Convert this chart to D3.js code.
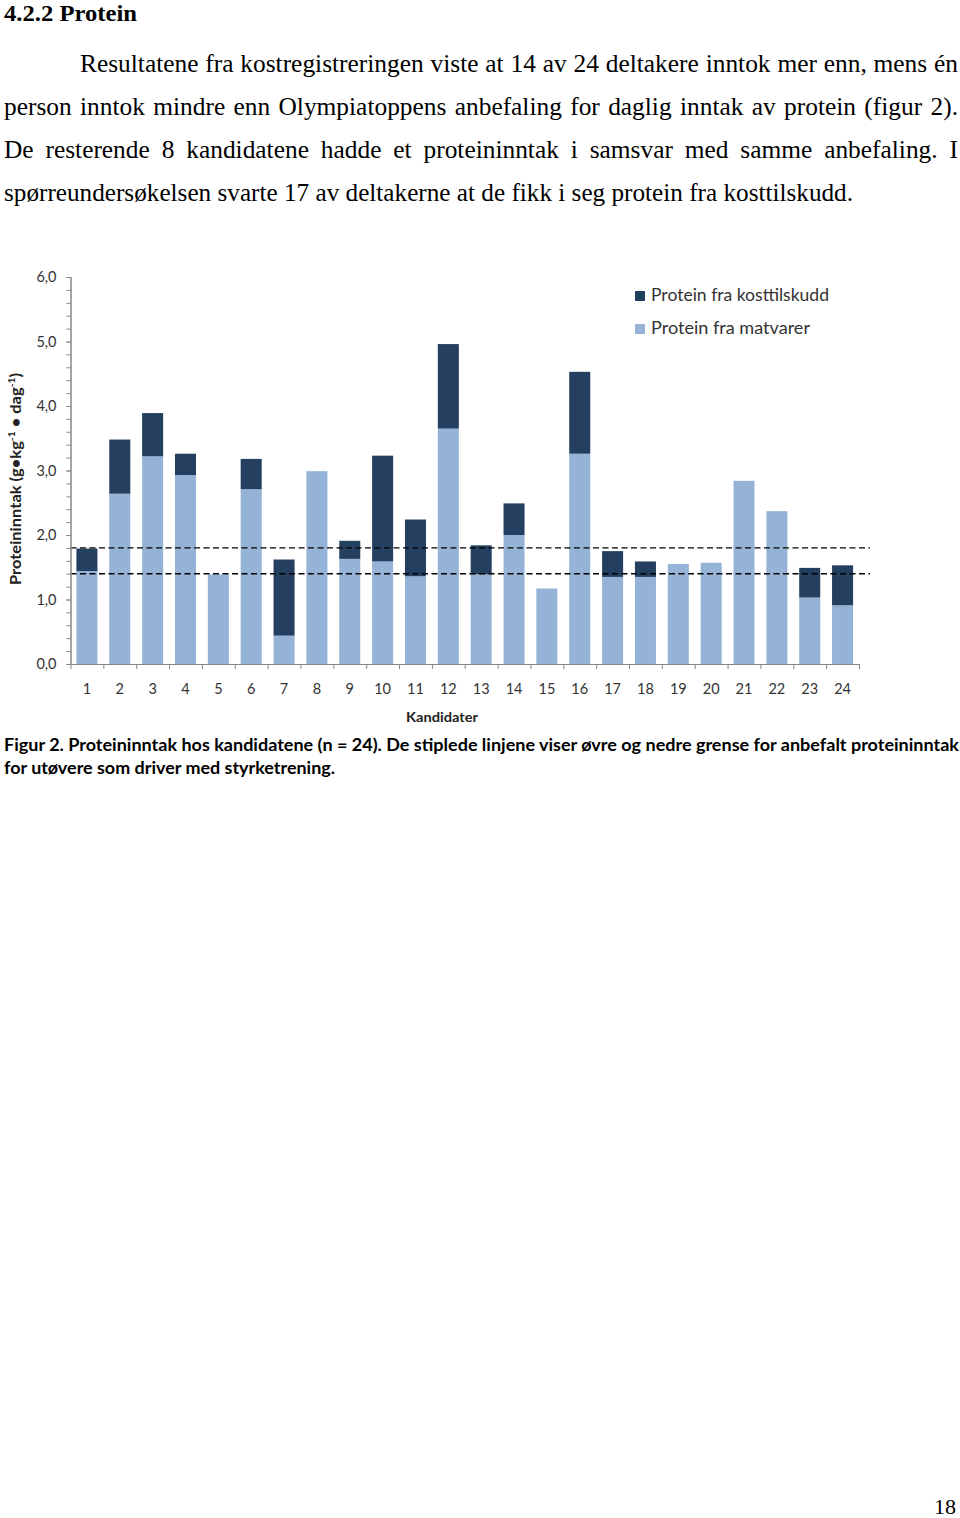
<!DOCTYPE html>
<html><head><meta charset="utf-8">
<script src="https://cdn.jsdelivr.net/npm/d3@7"></script>
<style>
html,body{margin:0;padding:0;background:#fff;}
svg{display:block;}
</style></head>
<body>
<svg id="page" width="960" height="1518"></svg>
<script>
// ---------- data ----------
const candidates = ["1","2","3","4","5","6","7","8","9","10","11","12","13","14","15","16","17","18","19","20","21","22","23","24"];
const proteinFood = [1.44,2.64,3.22,2.93,1.39,2.71,0.44,2.99,1.63,1.59,1.36,3.65,1.39,2.00,1.17,3.26,1.35,1.35,1.55,1.57,2.84,2.37,1.03,0.91];
const proteinSupplement = [0.35,0.84,0.67,0.33,0,0.47,1.18,0,0.28,1.64,0.88,1.31,0.45,0.49,0,1.27,0.40,0.24,0,0,0,0,0.46,0.62];
const seriesNames = ["Protein fra matvarer","Protein fra kosttilskudd"];
const yTicks = [0,1,2,3,4,5,6];
const yMinorTicks = d3.range(0, 30.5).map(i => i * 0.2);
const limits = [1.4, 1.8];

const headingText = "4.2.2 Protein";
const bodyLines = [
  "Resultatene fra kostregistreringen viste at 14 av 24 deltakere inntok mer enn, mens én",
  "person inntok mindre enn Olympiatoppens anbefaling for daglig inntak av protein (figur 2).",
  "De resterende 8 kandidatene hadde et proteininntak i samsvar med samme anbefaling. I",
  "spørreundersøkelsen svarte 17 av deltakerne at de fikk i seg protein fra kosttilskudd."
];
const captionLines = [
  "Figur 2. Proteininntak hos kandidatene (n = 24). De stiplede linjene viser øvre og nedre grense for anbefalt proteininntak",
  "for utøvere som driver med styrketrening."
];
const pageNumber = "18";

// ---------- page ----------
const svg = d3.select("#page");
const serif = "'Liberation Serif','Times New Roman',serif";
const sans = "Lato,'Open Sans',sans-serif";
const bodySize = 25.4;

svg.append("text").attr("x",4).attr("y",21).attr("font-family",serif).attr("font-weight","bold")
  .attr("font-size",24).attr("textLength",133).attr("lengthAdjust","spacingAndGlyphs").text(headingText);

const bodyLayout = [
  {x:80, y:72, w:878, just:true},
  {x:4, y:115, w:954, just:true},
  {x:4, y:158, w:954, just:true},
  {x:4, y:201, w:849, just:false}
];
bodyLines.forEach((t,i)=>{
  const L = bodyLayout[i];
  const g = svg.append("g");
  const words = t.split(" ");
  const tmp = g.append("text").attr("font-family",serif).attr("font-size",bodySize).text(t);
  const natural = tmp.node().getComputedTextLength();
  tmp.remove();
  if (natural > L.w || !L.just) {
    g.append("text").attr("x",L.x).attr("y",L.y).attr("font-family",serif).attr("font-size",bodySize)
      .attr("textLength",L.w).attr("lengthAdjust","spacingAndGlyphs").text(t);
  } else {
    const widths = words.map(w=>{
      const n = g.append("text").attr("font-family",serif).attr("font-size",bodySize).text(w);
      const wd = n.node().getComputedTextLength(); n.remove(); return wd;
    });
    const total = d3.sum(widths);
    const gap = (L.w - total) / (words.length - 1);
    let x = L.x;
    words.forEach((w,j)=>{
      g.append("text").attr("x",x).attr("y",L.y).attr("font-family",serif).attr("font-size",bodySize).text(w);
      x += widths[j] + gap;
    });
  }
});

svg.append("text").attr("x",956).attr("y",1514).attr("text-anchor","end").attr("font-family",serif)
  .attr("font-size",22).text(pageNumber);

// ---------- chart ----------
const x = d3.scaleBand().domain(candidates).range([70.5, 859]).paddingInner(0.36).paddingOuter(0.18);
const xEdge = d3.scaleLinear().domain([0,24]).range([70.5, 859]);
const y = d3.scaleLinear().domain([0,6]).range([664, 277]);

const rows = candidates.map((c,i)=>({c, food:proteinFood[i], supp:proteinSupplement[i]}));
const stack = d3.stack().keys(["food","supp"])(rows);
const colors = {food:"#95B3D7", supp:"#243F60"};

const chart = svg.append("g");

chart.selectAll("g.series").data(stack).join("g").attr("fill", d=>colors[d.key])
  .selectAll("rect").data(d=>d).join("rect")
  .attr("x", d=>x(d.data.c)).attr("width", x.bandwidth())
  .attr("y", d=>y(d[1])).attr("height", d=>Math.max(0, y(d[0]) - y(d[1])));

// dashed limit lines
chart.selectAll("line.limit").data(limits).join("line")
  .attr("x1",70.5).attr("x2",870).attr("y1",d=>y(d)).attr("y2",d=>y(d))
  .attr("stroke","#000").attr("stroke-width",1.4).attr("stroke-dasharray","6,3.5");

// y axis
const axisColor = "#868686";
const yMinor = chart.append("g").attr("transform","translate(70.5,0)")
  .call(d3.axisLeft(y).tickValues(yMinorTicks).tickSize(4).tickFormat(""));
const yMajor = chart.append("g").attr("transform","translate(70.5,0)")
  .call(d3.axisLeft(y).tickValues(yTicks).tickSize(4).tickPadding(10).tickFormat(d=>d3.format(".1f")(d).replace(".",",")));
[yMinor,yMajor].forEach(a=>{
  a.select(".domain").attr("stroke",axisColor).attr("d","M0.5,277V664");
  a.selectAll(".tick line").attr("stroke",axisColor);
});
yMajor.selectAll("text").attr("font-family",sans).attr("font-size",14.5).attr("fill","#333");

// x axis
const xTicks = chart.append("g").attr("transform","translate(0,664)")
  .call(d3.axisBottom(xEdge).tickValues(d3.range(0,25)).tickSize(5).tickFormat(""));
xTicks.select(".domain").attr("stroke",axisColor).attr("d","M70.5,0.5H859");
xTicks.selectAll(".tick line").attr("stroke",axisColor);
const xLab = chart.append("g").attr("transform","translate(0,664)")
  .call(d3.axisBottom(x).tickSize(0).tickPadding(20));
xLab.select(".domain").remove();
xLab.selectAll("text").attr("font-family",sans).attr("font-size",14.5).attr("fill","#333");

// axis titles
chart.append("text").attr("transform","translate(21,479) rotate(-90)").attr("text-anchor","middle")
  .attr("font-family",sans).attr("font-weight","bold").attr("font-size",16).attr("fill","#222")
  .attr("textLength",212).attr("lengthAdjust","spacingAndGlyphs")
  .call(t=>{
    t.append("tspan").text("Proteininntak (g•kg");
    t.append("tspan").attr("dy",-6).attr("font-size",10).text("-1");
    t.append("tspan").attr("dy",6).text(" • dag");
    t.append("tspan").attr("dy",-6).attr("font-size",10).text("-1");
    t.append("tspan").attr("dy",6).text(")");
  });
chart.append("text").attr("x",442).attr("y",722).attr("text-anchor","middle")
  .attr("font-family",sans).attr("font-weight","bold").attr("font-size",14).attr("fill","#222")
  .attr("textLength",72).attr("lengthAdjust","spacingAndGlyphs").text("Kandidater");

// legend
const legendItems = [{name:seriesNames[1], key:"supp", w:178},{name:seriesNames[0], key:"food", w:159}];
const leg = chart.append("g");
legendItems.forEach((d,i)=>{
  const base = 301 + i*33;
  leg.append("rect").attr("x",635).attr("y",base-10).attr("width",10).attr("height",10).attr("fill",colors[d.key]);
  leg.append("text").attr("x",651).attr("y",base).attr("font-family",sans).attr("font-size",17).attr("fill","#333")
    .attr("textLength",d.w).attr("lengthAdjust","spacingAndGlyphs").text(d.name);
});

// caption
svg.append("text").attr("x",4).attr("y",751).attr("font-family",sans).attr("font-weight","bold").attr("font-size",16.5)
  .attr("textLength",955).attr("lengthAdjust","spacingAndGlyphs").text(captionLines[0]);
svg.append("text").attr("x",4).attr("y",774).attr("font-family",sans).attr("font-weight","bold").attr("font-size",16.5)
  .attr("textLength",331).attr("lengthAdjust","spacingAndGlyphs").text(captionLines[1]);
</script>
</body></html>
